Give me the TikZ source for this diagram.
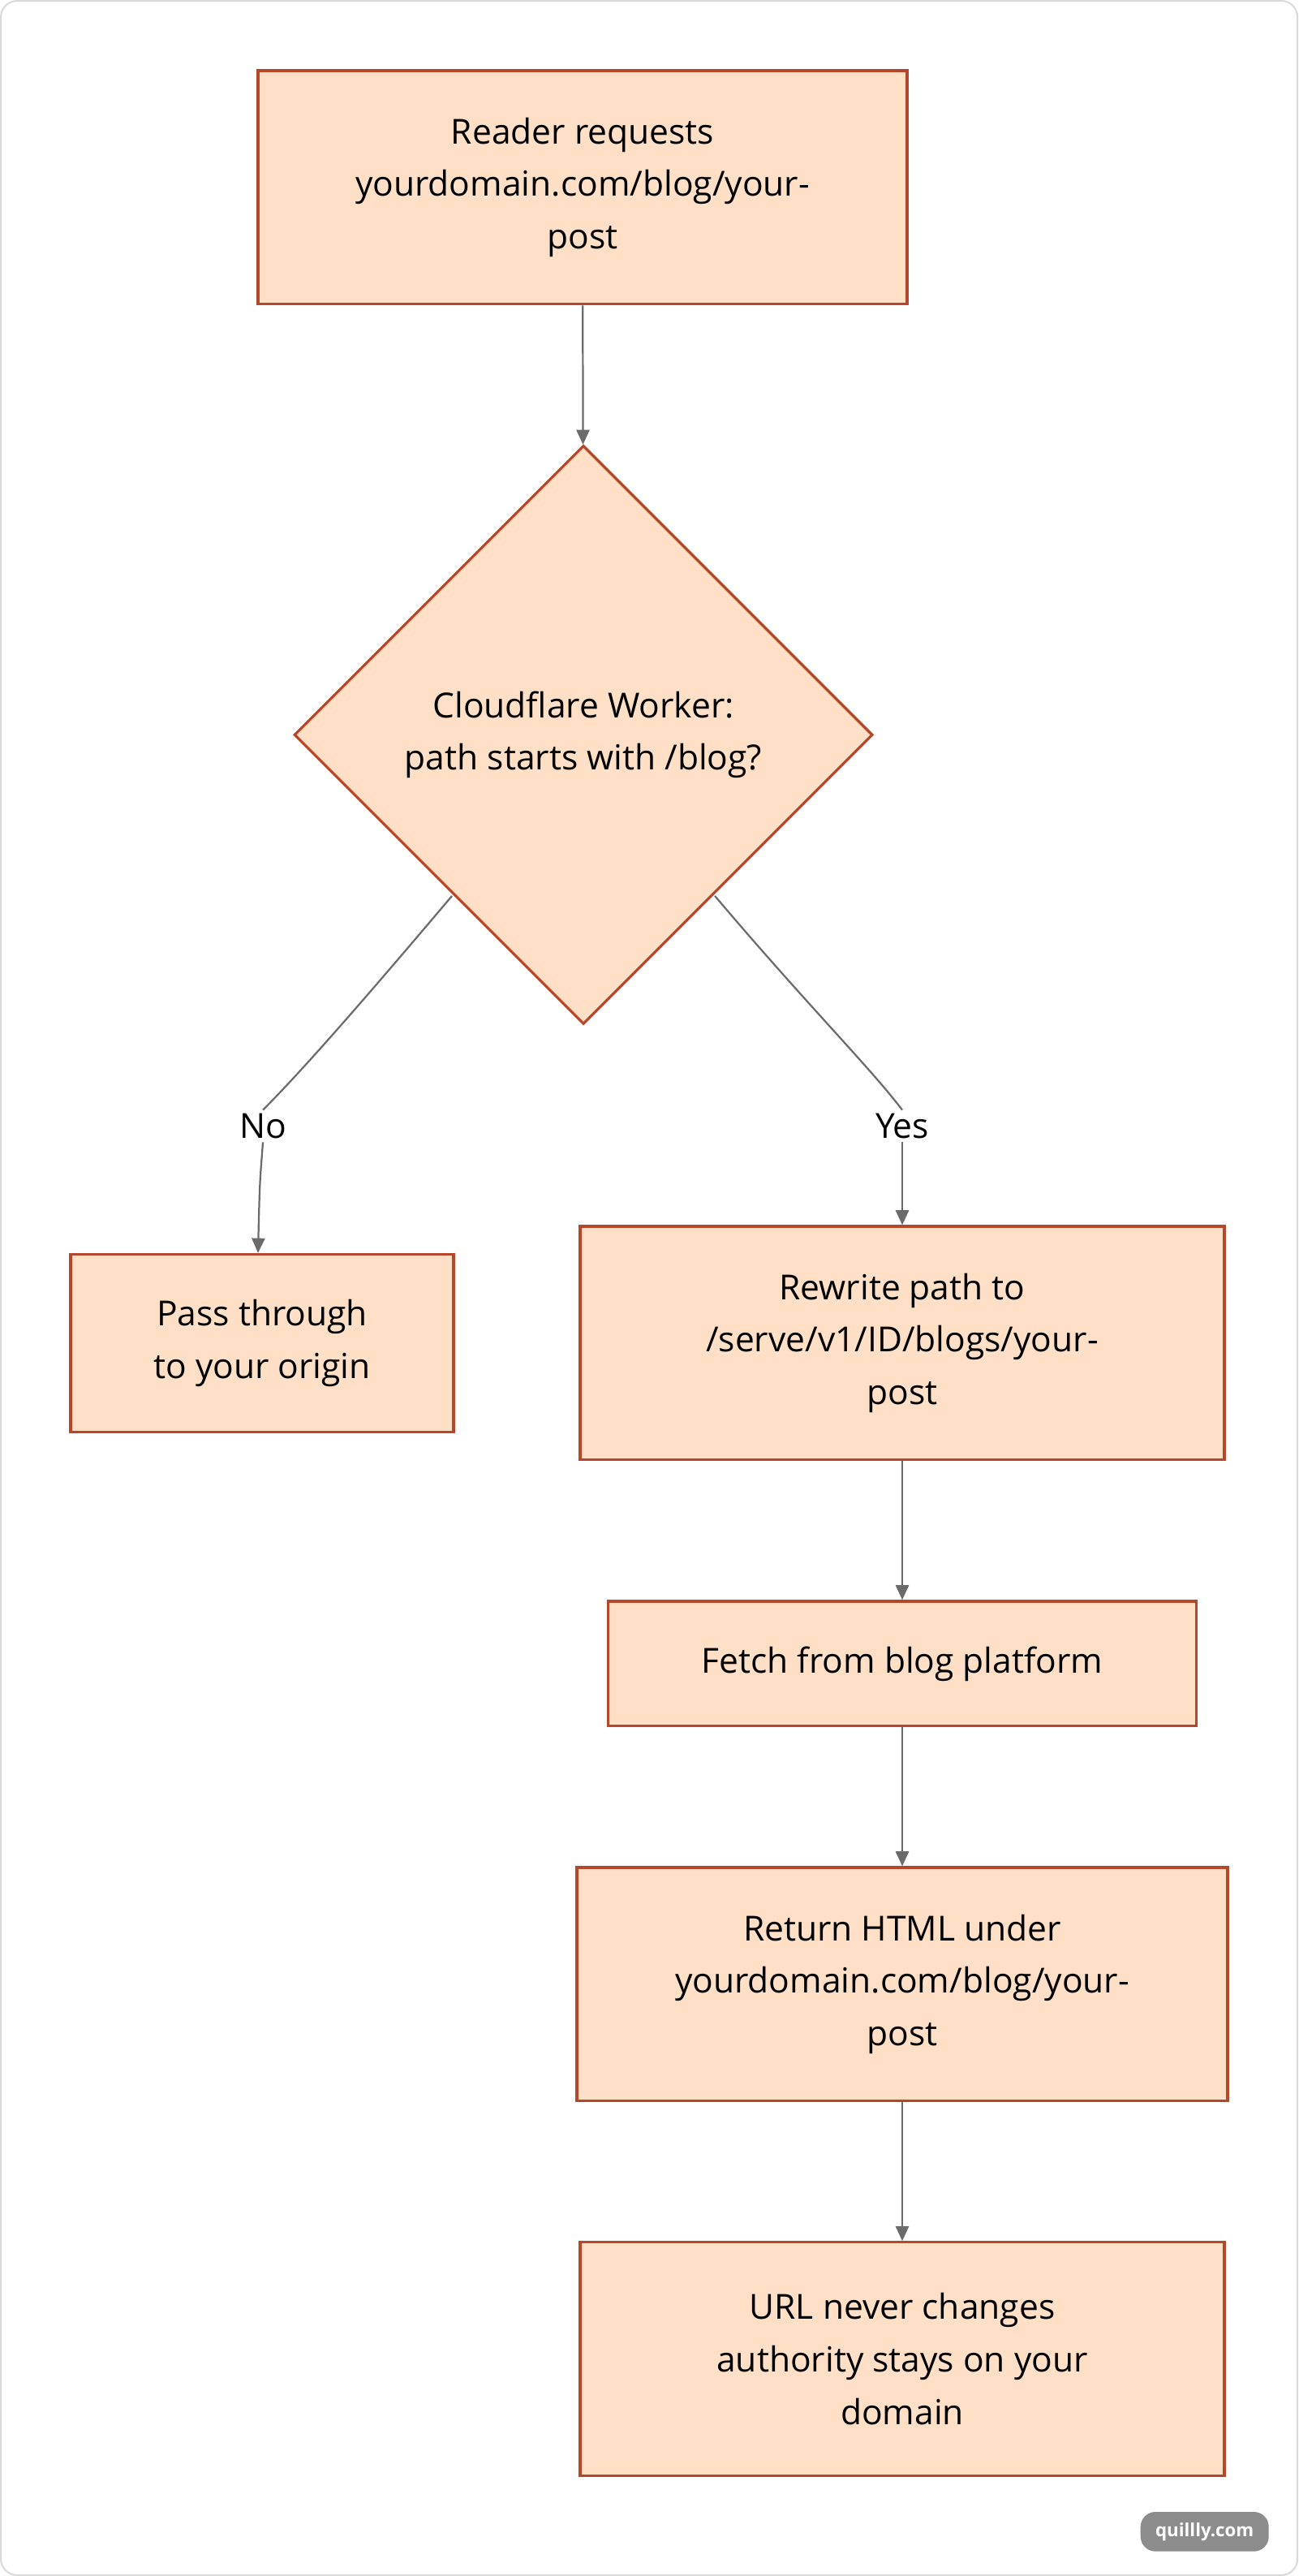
\documentclass[tikz,border=0pt]{standalone}
\usepackage{fontspec}
\setmainfont{Open Sans}
\usetikzlibrary{shapes.geometric,arrows.meta}
\definecolor{boxfill}{HTML}{FFDFC6}
\definecolor{boxline}{HTML}{B5472A}
\definecolor{arr}{HTML}{6B6B6B}
\begin{document}
\begin{tikzpicture}[x=1pt,y=-1pt,
  box/.style={draw=boxline,fill=boxfill,line width=1.6pt,align=center,font=\fontsize{21}{32}\selectfont,inner sep=0pt},
  conn/.style={draw=arr,line width=1.1pt,-{Triangle[length=9pt,width=8pt]}},
  lbl/.style={fill=white,font=\fontsize{21}{26}\selectfont,inner sep=2pt}]
\useasboundingbox (0,0) rectangle (790,1567);
\draw[draw=black!15,line width=1pt,rounded corners=10pt] (0.5,0.5) rectangle (789.5,1566.5);
\node[box,minimum width=395pt,minimum height=142pt] (a) at (354.5,114) {Reader requests\\yourdomain.com/blog/your-\\post};
\node[box,diamond,minimum width=352pt,minimum height=352pt,aspect=1] (d) at (355,447) {Cloudflare Worker:\\path starts with /blog?};
\node[box,minimum width=233pt,minimum height=108pt] (p) at (159.5,817) {Pass through\\to your origin};
\node[box,minimum width=392pt,minimum height=142pt] (r) at (549,817) {Rewrite path to\\/serve/v1/ID/blogs/your-\\post};
\node[box,minimum width=358pt,minimum height=76pt] (f) at (549,1012) {Fetch from blog platform};
\node[box,minimum width=396pt,minimum height=142pt] (h) at (549,1207) {Return HTML under\\yourdomain.com/blog/your-\\post};
\node[box,minimum width=392pt,minimum height=142pt] (u) at (549,1435) {URL never changes\\authority stays on your\\domain};
\node[lbl] (no) at (160,685) {No};
\node[lbl] (yes) at (549,685) {Yes};
\coordinate (dl) at (275,545);
\coordinate (dr) at (435,545);
\draw[conn] (a) -- (d);
\draw[draw=arr,line width=1.1pt] (dl) .. controls (220,610) and (185,650) .. (no.north);
\draw[conn] (no.south) .. controls (158,720) .. (p.north -| 157,0);
\draw[draw=arr,line width=1.1pt] (dr) .. controls (490,610) and (530,650) .. (yes.north);
\draw[conn] (yes.south) .. controls (549,710) .. (r.north);
\draw[conn] (r) -- (f);
\draw[conn] (f) -- (h);
\draw[conn] (h) -- (u);
\node[fill=black!45,text=white,rounded corners=9pt,font=\fontsize{11}{13}\selectfont\bfseries,minimum width=78pt,minimum height=24pt] (wm) at (733,1540) {quillly.com};
\end{tikzpicture}
\end{document}
